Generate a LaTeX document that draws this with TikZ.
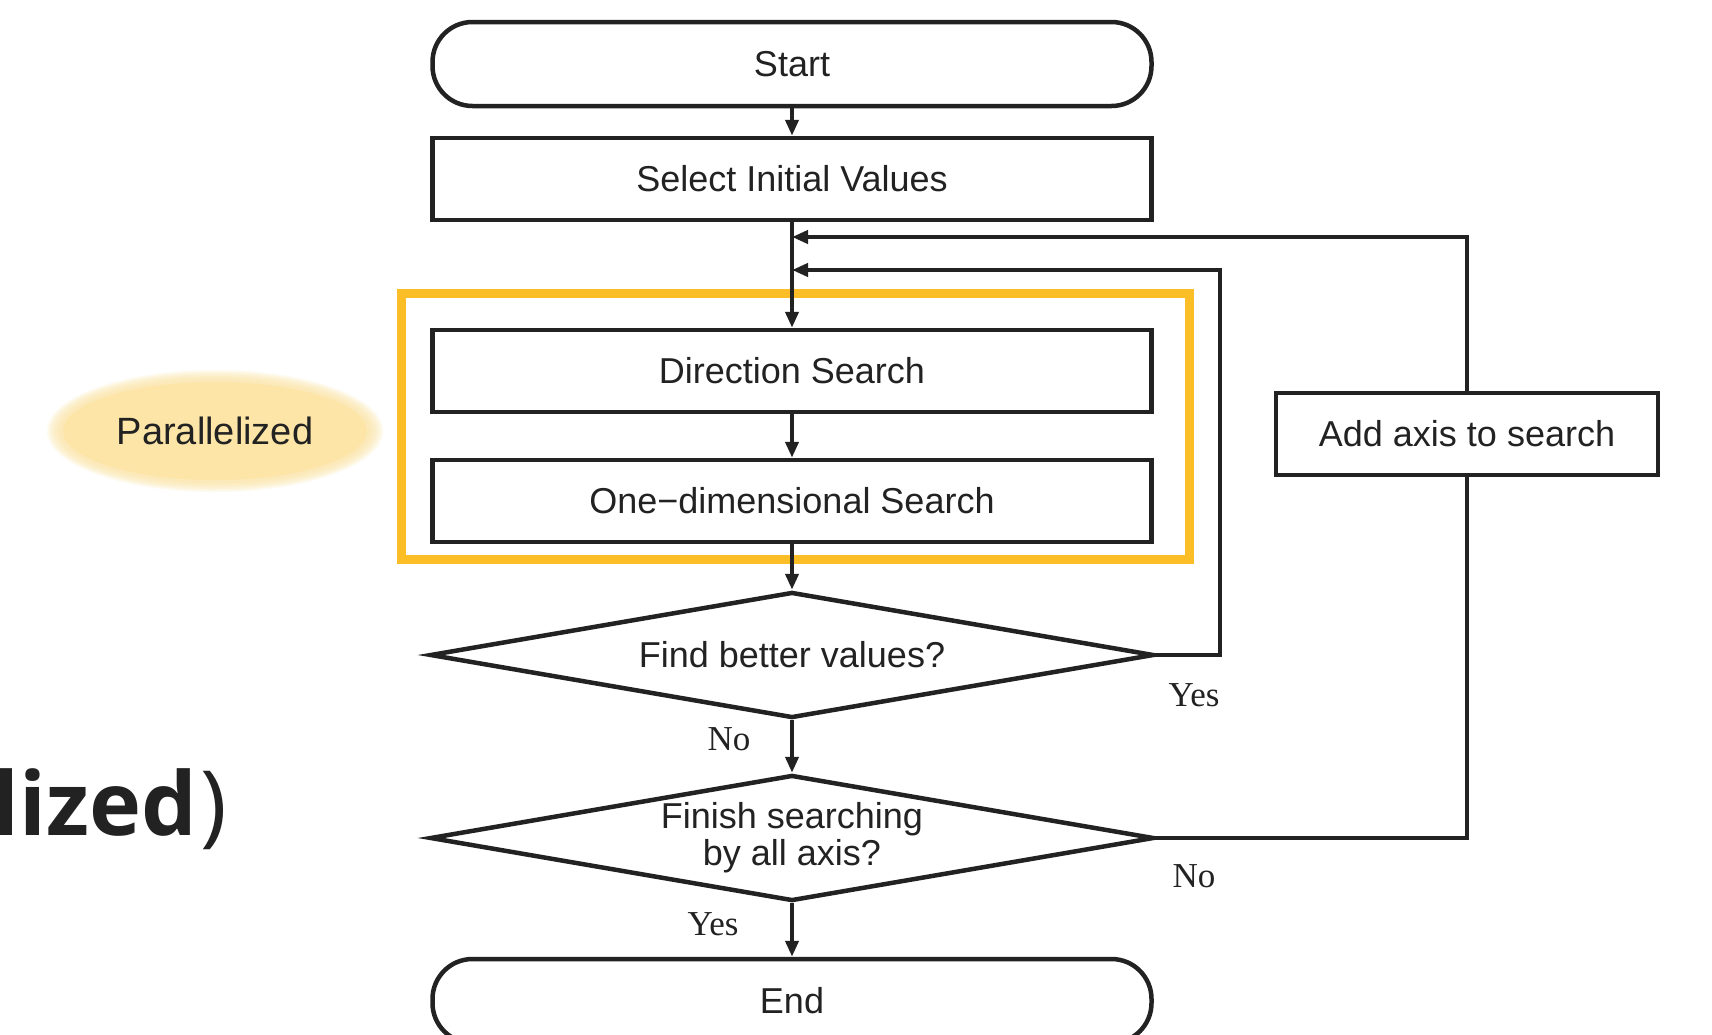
\documentclass[tikz,border=0pt]{standalone}
\usepackage{fontspec}
\setmainfont{Liberation Sans}
\newfontfamily\serfont{Liberation Serif}
\newfontfamily\opensans{Open Sans}
\usetikzlibrary{shapes.geometric,arrows.meta}
\definecolor{ink}{RGB}{34,34,34}
\definecolor{gold}{RGB}{252,190,38}
\definecolor{cream}{RGB}{252,229,166}
\begin{document}
\begin{tikzpicture}[x=1pt,y=-1pt,
 every node/.style={text=ink},
 proc/.style={draw=ink, line width=4.5pt, rectangle, minimum width=719pt, minimum height=82pt, inner sep=0pt, font=\fontsize{36}{40}\selectfont},
 term/.style={proc, rounded corners=40pt, minimum height=84pt},
 dec/.style={draw=ink, line width=4.5pt, diamond, aspect=5.8, minimum width=724pt, minimum height=126pt, inner sep=0pt, align=center, font=\fontsize{36}{37}\selectfont},
 lbl/.style={font=\serfont\fontsize{35}{36}\selectfont},
 flow/.style={draw=ink, line width=4.5pt, -{Triangle[length=16pt,width=13pt]}},
 wire/.style={draw=ink, line width=4.5pt},
]
\clip (0,0) rectangle (1712,1034);
\fill[white] (0,0) rectangle (1712,1034);
% parallelized blob
\foreach \i in {0,...,6}{
  \fill[cream, opacity=0.18] (215,431) ellipse [x radius={156+2*\i}, y radius={52+1.5*\i}];
}
\fill[cream] (215,431) ellipse [x radius=152, y radius=49];
\node[font=\fontsize{38}{40}\selectfont] (parl) at (215,431) {Parallelized};
% cut-off title text
\node[font=\opensans\bfseries\fontsize{88}{92}\selectfont, anchor=base east, inner sep=0pt] (lz) at (197,835) {lized};
\node[font=\opensans\fontsize{90}{94}\selectfont, anchor=base west, inner sep=0pt] (paren) at (200,835) {)};
% parallel region
\node[draw=gold, line width=9pt, minimum width=788pt, minimum height=266pt, inner sep=0pt] (par) at (795,426) {};
% nodes
\node[term] (start) at (792,64) {Start};
\node[proc] (init) at (792,179) {Select Initial Values};
\node[proc] (dir) at (792,371) {Direction Search};
\node[proc] (one) at (792,501) {One−dimensional Search};
\node[dec] (find) at (792,655) {Find better values?};
\node[dec] (fin) at (792,838) {Finish searching\\by all axis?};
\node[term] (end) at (792,1001) {End};
\node[proc, minimum width=382pt] (add) at (1467,434) {Add axis to search};
% connectors
\coordinate (j1) at (792,237);
\coordinate (j2) at (792,270);
\coordinate (r1) at (1220,270);
\draw[flow] (start) -- (init);
\draw[flow] (init) -- (dir);
\draw[flow] (dir) -- (one);
\draw[flow] (one) -- (find);
\draw[flow] (find) -- (fin);
\draw[flow] (fin) -- (end);
\draw[flow] (find.east) -| (r1) -- (j2);
\draw[wire] (fin.east) -| (add.south);
\draw[flow] (add.north) |- (j1);
% labels
\node[lbl] (yes1) at (1194,695) {Yes};
\node[lbl] (no1) at (729,739) {No};
\node[lbl] (no2) at (1194,876) {No};
\node[lbl] (yes2) at (713,924) {Yes};
\end{tikzpicture}
\end{document}
